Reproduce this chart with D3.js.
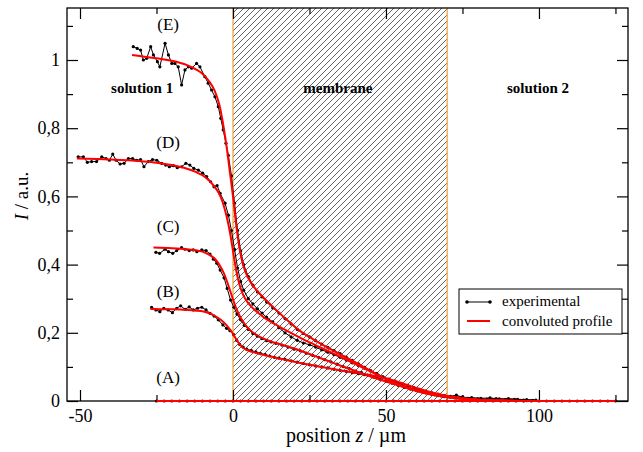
<!DOCTYPE html>
<html>
<head>
<meta charset="utf-8">
<script src="https://cdn.jsdelivr.net/npm/d3@7"></script>
<style>
  body { margin: 0; background: #fff; }
  svg { display: block; font-family: "Liberation Serif", "Times New Roman", serif; }
</style>
</head>
<body>
<div id="container"></div>
<script>
// Chart size and margins
const width = 643;
const height = 452;
const marginTop = 8;
const marginRight = 15;
const marginBottom = 51;
const marginLeft = 67;

// Axis ticks
const xTicks = [-50, 0, 50, 100];
const xMinorTicks = [-25, 25, 75, 125];
const yTicks = [0, 0.2, 0.4, 0.6, 0.8, 1];
const yMinorTicks = [0.1, 0.3, 0.5, 0.7, 0.9, 1.1];

// Membrane position (µm)
const membrane = [0, 70];

// Experimental profiles [z, I]
const expE = [[-32.6,1.039],[-31.3,1.034],[-30.2,1.029],[-29.3,1.0],[-28.2,1.005],[-26.9,1.039],[-26.0,1.015],[-24.7,0.995],[-23.9,0.98],[-22.2,1.049],[-21.1,1.015],[-20.0,0.99],[-19.0,0.99],[-17.9,0.98],[-16.8,0.927],[-15.7,0.971],[-14.6,0.98],[-13.5,0.976],[-11.9,0.99],[-10.8,0.98],[-9.2,0.951],[-8.1,0.932],[-7.0,0.912],[-5.9,0.892],[-4.8,0.863],[-4.0,0.829],[-3.2,0.795],[-2.3,0.756],[-1.5,0.72],[-0.5,0.66],[0.5,0.58],[1.5,0.5],[2.5,0.44],[3.5,0.4],[5,0.365],[6.5,0.34],[8,0.32],[9.5,0.305],[11,0.29],[13,0.273],[15,0.258],[17,0.242],[19,0.226],[21,0.21],[23,0.198],[25,0.188],[27,0.177],[29,0.167],[31,0.157],[33,0.148],[35,0.139],[37,0.129],[39,0.119],[41,0.109],[43,0.099],[45,0.089],[47,0.08],[49,0.071],[51,0.062],[53,0.055],[55,0.047],[57,0.04],[59,0.034],[61,0.029],[63,0.024],[65,0.02],[67,0.017],[69,0.013],[71,0.012],[73,0.01],[75,0.012],[77,0.008],[80,0.006],[83,0.005],[86,0.007],[89,0.004],[92,0.005],[95,0.003],[98,0.002]];

const expD = [[-50.6,0.716],[-48.9,0.716],[-47.6,0.7],[-46.2,0.702],[-44.6,0.702],[-42.9,0.716],[-41.5,0.711],[-40.4,0.706],[-39.3,0.724],[-38.2,0.706],[-36.9,0.695],[-35.6,0.697],[-34.2,0.711],[-32.8,0.711],[-31.5,0.706],[-30.2,0.708],[-29.1,0.687],[-27.7,0.702],[-26.3,0.708],[-24.9,0.706],[-23.3,0.697],[-22.0,0.692],[-20.8,0.687],[-19.5,0.69],[-18.2,0.684],[-16.8,0.687],[-15.4,0.697],[-14.1,0.692],[-12.8,0.682],[-11.3,0.677],[-9.9,0.668],[-8.6,0.658],[-7.3,0.643],[-6.2,0.628],[-5.2,0.632],[-4.2,0.609],[-2.6,0.58],[-1.5,0.545],[-0.5,0.5],[0.5,0.445],[1.5,0.39],[2.5,0.35],[3.5,0.325],[5,0.3],[6.5,0.285],[8,0.27],[9.5,0.258],[11,0.245],[13,0.232],[15,0.215],[17,0.2],[19,0.188],[21,0.178],[23,0.17],[25,0.165],[27,0.158],[29,0.15],[31,0.143],[33,0.136],[35,0.128],[37,0.12],[39,0.112],[41,0.104],[43,0.096],[45,0.088],[47,0.08],[49,0.07],[51,0.062],[53,0.055],[55,0.048],[57,0.04],[59,0.034],[61,0.03],[63,0.026],[65,0.02],[67,0.016],[69,0.013],[71,0.012],[74,0.009],[77,0.007],[80,0.005],[84,0.004],[88,0.003],[92,0.002],[96,0.001]];

const expC = [[-25.2,0.436],[-24.0,0.433],[-22.2,0.445],[-21.1,0.438],[-19.7,0.433],[-18.4,0.441],[-16.8,0.45],[-15.7,0.445],[-14.3,0.441],[-13.0,0.443],[-11.8,0.438],[-10.2,0.443],[-8.8,0.441],[-7.5,0.431],[-6.4,0.416],[-5.3,0.404],[-4.2,0.384],[-2.9,0.361],[-1.9,0.33],[-0.8,0.296],[0.3,0.275],[1.3,0.255],[2.5,0.238],[3.7,0.222],[5,0.21],[6.5,0.198],[8,0.19],[9.5,0.183],[11,0.177],[12.5,0.173],[14,0.169],[16,0.164],[18,0.158],[20,0.152],[22,0.147],[24,0.14],[26,0.134],[28,0.128],[30,0.121],[32,0.115],[34,0.108],[36,0.101],[38,0.095],[40,0.088],[42,0.083],[44,0.076],[46,0.07],[48,0.064],[50,0.058],[52,0.052],[54,0.046],[56,0.04],[58,0.035],[60,0.03],[62,0.026],[64,0.022],[66,0.018],[68,0.015],[70,0.012],[73,0.009],[76,0.007],[80,0.005],[85,0.003],[90,0.002],[95,0.001]];

const expB = [[-26.6,0.275],[-25.2,0.267],[-23.9,0.262],[-22.6,0.272],[-21.2,0.267],[-19.8,0.259],[-18.4,0.272],[-17.1,0.279],[-15.7,0.269],[-14.3,0.276],[-13.0,0.267],[-11.6,0.272],[-10.2,0.275],[-8.8,0.267],[-7.5,0.257],[-6.2,0.249],[-4.8,0.238],[-3.3,0.223],[-2.1,0.213],[-1.0,0.206],[0.2,0.195],[1.2,0.178],[2.2,0.166],[3.3,0.158],[4.5,0.152],[6,0.148],[7.5,0.144],[9,0.139],[10.5,0.136],[12,0.132],[13.5,0.128],[15,0.126],[17,0.122],[19,0.118],[21,0.114],[23,0.11],[25,0.106],[27,0.103],[29,0.1],[31,0.097],[33,0.093],[35,0.09],[37,0.087],[39,0.083],[41,0.08],[43,0.077],[45,0.074],[47,0.072],[49,0.069],[51,0.064],[53,0.058],[55,0.052],[57,0.046],[59,0.04],[61,0.034],[63,0.029],[65,0.024],[67,0.02],[69,0.016],[71,0.014],[73,0.017],[75,0.011],[78,0.01],[81,0.008],[84,0.009],[87,0.006],[90,0.007],[93,0.005],[96,0.004],[99,0.003]];

const expA = [[-25,0],[-22.5,0],[-20,0],[-17.5,0],[-15,0],[-12.5,0],[-10,0],[-7.5,0],[-5,0],[-2.5,0],[0,0],[2.5,0],[5,0],[7.5,0],[10,0],[12.5,0],[15,0],[17.5,0],[20,0],[22.5,0],[25,0],[27.5,0],[30,0],[32.5,0],[35,0],[37.5,0],[40,0],[42.5,0],[45,0],[47.5,0],[50,0],[52.5,0],[55,0],[57.5,0],[60,0],[62.5,0],[65,0],[67.5,0],[70,0],[72.5,0],[75,0],[77.5,0],[80,0],[82.5,0],[85,0],[87.5,0],[90,0],[92.5,0],[95,0],[97.5,0],[100,0],[102.5,0],[105,0],[107.5,0],[110,0],[112.5,0],[115,0],[117.5,0],[120,0],[122.5,0],[125,0]];

// Convoluted (fitted) profiles [z, I]
const fitE = [[-33,1.015],[-25,1.005],[-20,0.998],[-15,0.985],[-12,0.972],[-10,0.96],[-8,0.94],[-6,0.91],[-4.5,0.87],[-3,0.8],[-2,0.74],[-1,0.67],[0,0.6],[1,0.52],[2,0.455],[3,0.41],[4,0.38],[6,0.345],[8,0.322],[10,0.303],[14,0.268],[18,0.235],[22,0.205],[26,0.182],[30,0.161],[35,0.137],[40,0.113],[45,0.088],[50,0.064],[55,0.044],[60,0.029],[65,0.018],[70,0.011],[75,0.006],[80,0.003],[90,0.001],[100,0]];
const fitD = [[-51,0.711],[-40,0.708],[-30,0.703],[-25,0.699],[-20,0.692],[-15,0.681],[-12,0.671],[-10,0.662],[-8,0.648],[-6,0.628],[-4,0.598],[-3,0.572],[-2,0.538],[-1,0.495],[0,0.44],[1,0.385],[2,0.345],[3,0.318],[4,0.3],[6,0.277],[8,0.26],[10,0.246],[14,0.224],[18,0.204],[22,0.185],[26,0.168],[30,0.151],[35,0.13],[40,0.108],[45,0.086],[50,0.064],[55,0.046],[60,0.031],[65,0.02],[70,0.012],[75,0.007],[80,0.004],[90,0.001],[100,0]];
const fitC = [[-26,0.45],[-20,0.448],[-15,0.445],[-12,0.442],[-10,0.438],[-8,0.43],[-6,0.418],[-4.5,0.4],[-3,0.375],[-2,0.352],[-1,0.325],[0,0.298],[1,0.273],[2,0.253],[3,0.237],[5,0.213],[8,0.192],[12,0.176],[16,0.165],[20,0.154],[25,0.138],[30,0.121],[35,0.104],[40,0.088],[45,0.072],[50,0.057],[55,0.043],[60,0.031],[65,0.021],[70,0.013],[75,0.008],[80,0.004],[90,0.001],[100,0]];
const fitB = [[-27,0.27],[-20,0.269],[-15,0.267],[-12,0.265],[-10,0.263],[-8,0.258],[-6,0.25],[-4,0.238],[-2,0.221],[-1,0.21],[0,0.197],[1,0.182],[2,0.168],[3,0.158],[5,0.148],[8,0.14],[12,0.131],[16,0.123],[20,0.115],[25,0.106],[30,0.098],[35,0.09],[40,0.083],[45,0.076],[50,0.067],[55,0.053],[60,0.038],[65,0.025],[70,0.015],[75,0.008],[80,0.004],[90,0.001],[100,0]];
const fitA = [[-25,0],[125,0]];

const expSeries = [expA, expB, expC, expD, expE];
const fitSeries = [fitA, fitB, fitC, fitD, fitE];

// Curve letters and region names
const curveNames = ["(A)", "(B)", "(C)", "(D)", "(E)"];
const regionNames = ["solution 1", "membrane", "solution 2"];

const svg = d3.create("svg").attr("width", width).attr("height", height);

const x = d3.scaleLinear()
  .domain([-54.25, 129.1])
  .range([marginLeft, width - marginRight]);

const y = d3.scaleLinear()
  .domain([0, 1.1525])
  .range([height - marginBottom, marginTop]);

const bottom = height - marginBottom;
const right = width - marginRight;

// hatch pattern for the membrane
const defs = svg.append("defs");
defs.append("pattern")
  .attr("id", "hatch")
  .attr("patternUnits", "userSpaceOnUse")
  .attr("width", 6)
  .attr("height", 6)
  .append("path")
  .attr("d", "M-1,1 l2,-2 M0,6 l6,-6 M5,7 l2,-2")
  .attr("stroke", "#555")
  .attr("stroke-width", 0.9);

svg.append("rect")
  .attr("x", x(membrane[0]))
  .attr("y", marginTop)
  .attr("width", x(membrane[1]) - x(membrane[0]))
  .attr("height", bottom - marginTop)
  .attr("fill", "url(#hatch)");

svg.append("g")
  .selectAll("line")
  .data(membrane)
  .join("line")
  .attr("x1", d => x(d))
  .attr("x2", d => x(d))
  .attr("y1", marginTop)
  .attr("y2", bottom)
  .attr("stroke", "#f0a030")
  .attr("stroke-width", 1.2);

// frame
svg.append("rect")
  .attr("x", marginLeft)
  .attr("y", marginTop)
  .attr("width", right - marginLeft)
  .attr("height", bottom - marginTop)
  .attr("fill", "none")
  .attr("stroke", "#000")
  .attr("stroke-width", 1.3);

// axes: ticks pointing inward on all four sides
const fmtY = d => d === 0 ? "0" : d3.format("~g")(d).replace(".", ",");
const fmtX = d => String(d);

function styleAxis(g) {
  g.select(".domain").remove();
  g.selectAll("line").attr("stroke", "#000").attr("stroke-width", 1.2);
  g.selectAll("text").attr("font-size", 18).attr("fill", "#000").attr("font-family", "Liberation Serif, serif");
}

svg.append("g").attr("transform", `translate(0,${bottom})`)
  .call(d3.axisBottom(x).tickValues(xTicks).tickSize(-11).tickPadding(8).tickFormat(fmtX)).call(styleAxis);
svg.append("g").attr("transform", `translate(0,${bottom})`)
  .call(d3.axisBottom(x).tickValues(xMinorTicks).tickSize(-6).tickFormat("")).call(styleAxis);
svg.append("g").attr("transform", `translate(0,${marginTop})`)
  .call(d3.axisTop(x).tickValues(xTicks).tickSize(-11).tickFormat("")).call(styleAxis);
svg.append("g").attr("transform", `translate(0,${marginTop})`)
  .call(d3.axisTop(x).tickValues(xMinorTicks).tickSize(-6).tickFormat("")).call(styleAxis);

svg.append("g").attr("transform", `translate(${marginLeft},0)`)
  .call(d3.axisLeft(y).tickValues(yTicks).tickSize(-11).tickPadding(7).tickFormat(fmtY)).call(styleAxis);
svg.append("g").attr("transform", `translate(${marginLeft},0)`)
  .call(d3.axisLeft(y).tickValues(yMinorTicks).tickSize(-6).tickFormat("")).call(styleAxis);
svg.append("g").attr("transform", `translate(${right},0)`)
  .call(d3.axisRight(y).tickValues(yTicks).tickSize(-11).tickFormat("")).call(styleAxis);
svg.append("g").attr("transform", `translate(${right},0)`)
  .call(d3.axisRight(y).tickValues(yMinorTicks).tickSize(-6).tickFormat("")).call(styleAxis);

// experimental curves (black line + dots)
const line = d3.line().x(d => x(d[0])).y(d => y(d[1]));
const smooth = d3.line().x(d => x(d[0])).y(d => y(d[1])).curve(d3.curveMonotoneX);

const expG = svg.append("g");
expSeries.forEach(s => {
  expG.append("path")
    .attr("d", line(s))
    .attr("fill", "none")
    .attr("stroke", "#000")
    .attr("stroke-width", 1);
  expG.append("g")
    .selectAll("circle")
    .data(s)
    .join("circle")
    .attr("cx", d => x(d[0]))
    .attr("cy", d => y(d[1]))
    .attr("r", 1.6)
    .attr("fill", "#000");
});

// convoluted profiles (red)
svg.append("g")
  .selectAll("path")
  .data(fitSeries)
  .join("path")
  .attr("d", d => smooth(d))
  .attr("fill", "none")
  .attr("stroke", "#ff0000")
  .attr("stroke-width", 2);

// curve letters, placed in data coordinates
const letterPos = [[-21.2, 0.053], [-21.2, 0.305], [-21.2, 0.496], [-21.2, 0.742], [-21.2, 1.088]];
svg.append("g")
  .selectAll("text")
  .data(curveNames)
  .join("text")
  .attr("x", (d, i) => x(letterPos[i][0]))
  .attr("y", (d, i) => y(letterPos[i][1]))
  .attr("text-anchor", "middle")
  .attr("font-size", 17)
  .text(d => d);

// region names
const regionPos = [-29.7, 34.3, 99.7];
svg.append("g")
  .selectAll("text")
  .data(regionNames)
  .join("text")
  .attr("x", (d, i) => x(regionPos[i]))
  .attr("y", y(0.903))
  .attr("text-anchor", "middle")
  .attr("font-size", 15)
  .attr("font-weight", "bold")
  .text(d => d);

// axis titles
const xt = svg.append("text")
  .attr("x", 346)
  .attr("y", 442)
  .attr("text-anchor", "middle")
  .attr("font-size", 20);
xt.append("tspan").text("position ");
xt.append("tspan").attr("font-style", "italic").text("z");
xt.append("tspan").text(" / µm");

const yt = svg.append("text")
  .attr("transform", "translate(28,196) rotate(-90)")
  .attr("text-anchor", "middle")
  .attr("font-size", 19);
yt.append("tspan").attr("font-style", "italic").text("I");
yt.append("tspan").text(" / a.u.");

// legend
const legend = svg.append("g").attr("transform", "translate(459,289)");
legend.append("rect")
  .attr("width", 163)
  .attr("height", 45)
  .attr("fill", "#fff")
  .attr("stroke", "#000")
  .attr("stroke-width", 1);
legend.append("line")
  .attr("x1", 8).attr("x2", 31).attr("y1", 13).attr("y2", 13)
  .attr("stroke", "#000").attr("stroke-width", 1);
legend.selectAll("circle")
  .data([8, 31])
  .join("circle")
  .attr("cx", d => d).attr("cy", 13).attr("r", 1.8).attr("fill", "#000");
legend.append("line")
  .attr("x1", 8).attr("x2", 31).attr("y1", 32).attr("y2", 32)
  .attr("stroke", "#ff0000").attr("stroke-width", 2);
legend.append("text").attr("x", 43).attr("y", 17).attr("font-size", 15).text("experimental");
legend.append("text").attr("x", 43).attr("y", 37).attr("font-size", 15).text("convoluted profile");

document.getElementById("container").append(svg.node());
</script>
</body>
</html>
